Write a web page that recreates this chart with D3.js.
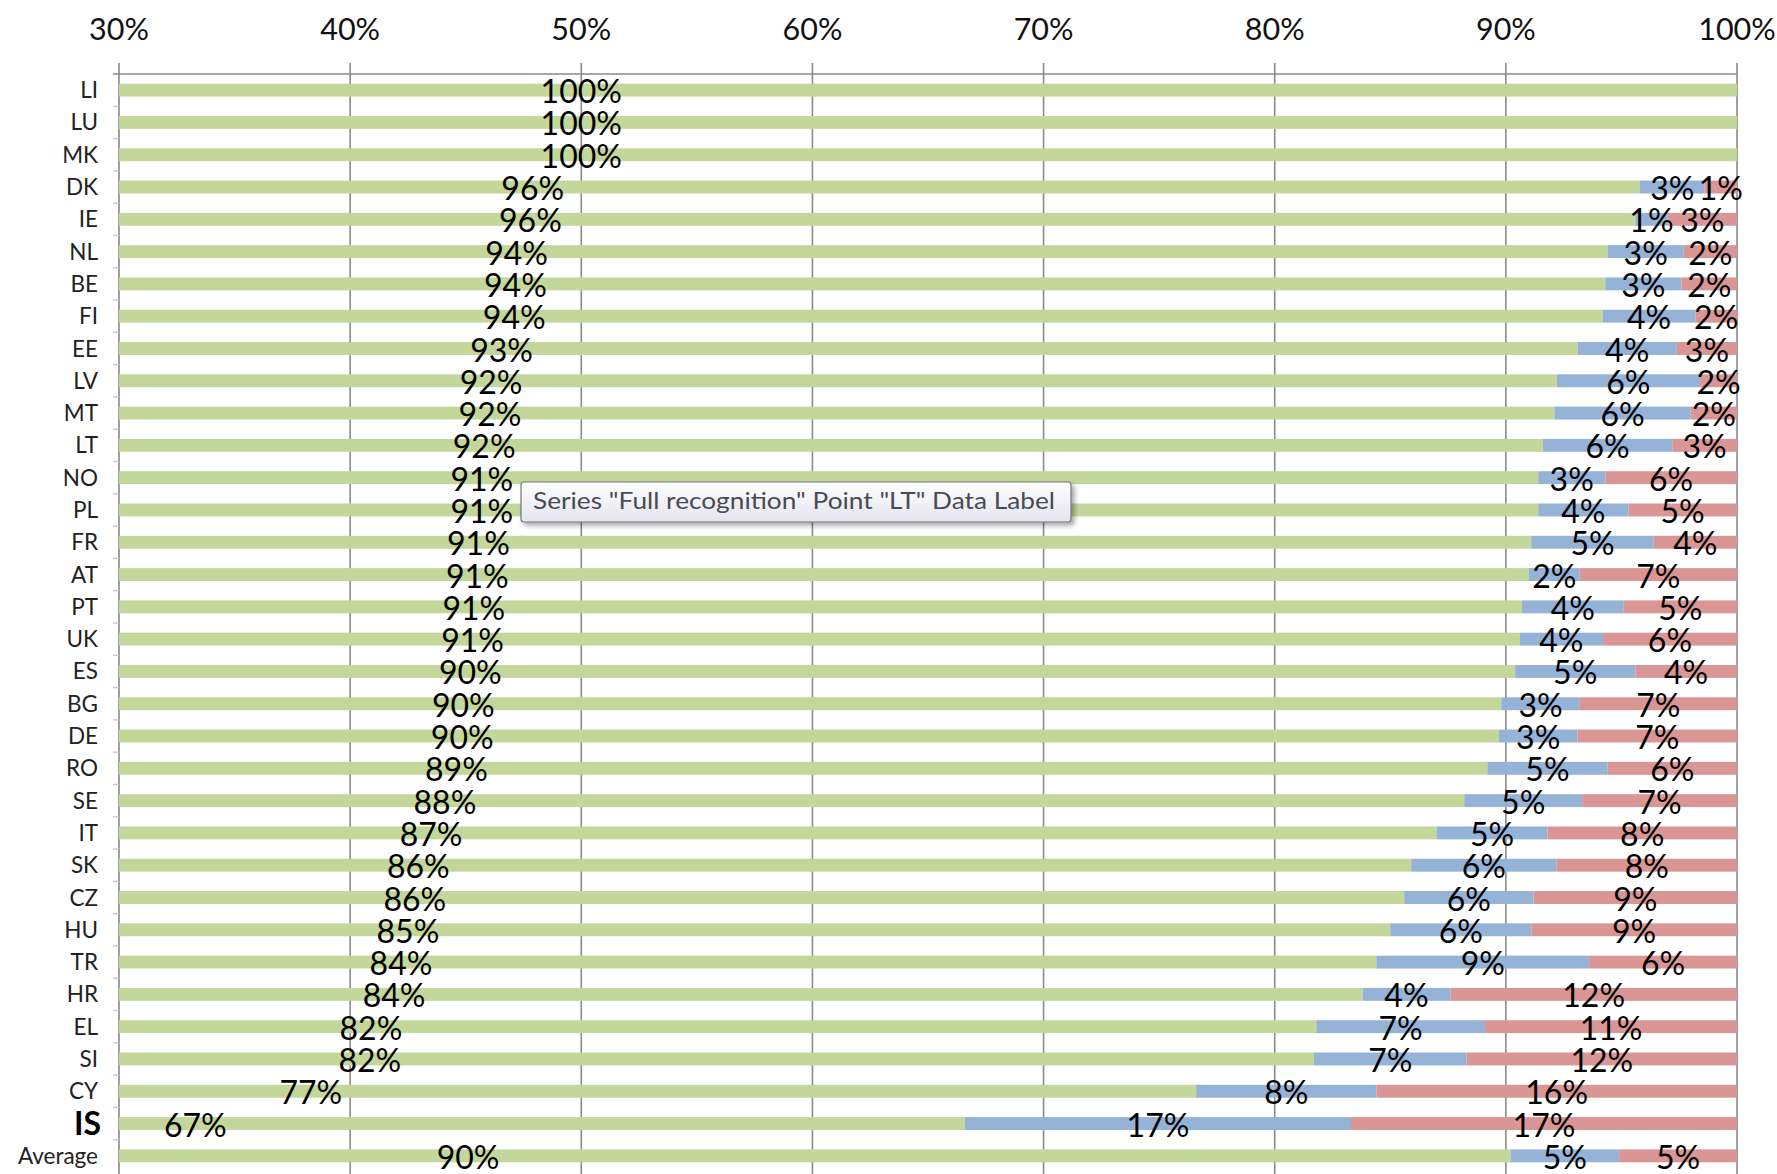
<!DOCTYPE html>
<html>
<head>
<meta charset="utf-8">
<script src="https://cdn.jsdelivr.net/npm/d3@7"></script>
<style>
    html, body { margin: 0; padding: 0; background: #fff; }
    svg { display: block; font-family: Lato, "Open Sans", sans-serif; }
</style>
</head>
<body>
<svg id="chart" width="1777" height="1174"></svg>
<script>
const categories = ["LI", "LU", "MK", "DK", "IE", "NL", "BE", "FI", "EE", "LV", "MT", "LT", "NO", "PL", "FR",
    "AT", "PT", "UK", "ES", "BG", "DE", "RO", "SE", "IT", "SK", "CZ", "HU", "TR", "HR", "EL", "SI", "CY", "IS", "Average"];
const fullRecognition = [100, 100, 100, 95.8, 95.6, 94.4, 94.3, 94.2, 93.1, 92.2, 92.1, 91.6, 91.4, 91.4, 91.1,
    91.0, 90.7, 90.6, 90.4, 89.8, 89.7, 89.2, 88.2, 87.0, 85.9, 85.6, 85.0, 84.4, 83.8, 81.8, 81.7, 76.6, 66.6, 90.2];
const partialRecognition = [0, 0, 0, 2.8, 1.4, 3.3, 3.3, 4.0, 4.3, 6.2, 5.9, 5.6, 2.9, 3.9, 5.3,
    2.2, 4.4, 3.6, 5.2, 3.4, 3.4, 5.2, 5.1, 4.8, 6.3, 5.6, 6.1, 9.2, 3.8, 7.3, 6.6, 7.8, 16.7, 4.7];
const noRecognition = [0, 0, 0, 1.4, 3.0, 2.3, 2.4, 1.8, 2.6, 1.6, 2.0, 2.8, 5.7, 4.7, 3.6,
    6.8, 4.9, 5.8, 4.4, 6.8, 6.9, 5.6, 6.7, 8.2, 7.8, 8.8, 8.9, 6.4, 12.4, 10.9, 11.7, 15.6, 16.7, 5.1];
const tickValues = [30, 40, 50, 60, 70, 80, 90, 100];
const seriesKeys = ["full", "partial", "none"];
const seriesColors = { full: "#c4d79b", partial: "#95b3d7", none: "#da9694" };
const tooltipText = 'Series "Full recognition" Point "LT" Data Label';

const svg = d3.select("#chart");
const plotLeft = 119, plotRight = 1737, plotTop = 74, plotBottom = 1172;

const x = d3.scaleLinear().domain([30, 100]).range([plotLeft, plotRight]);
const y = d3.scaleBand().domain(categories).range([plotTop, plotBottom])
    .paddingInner(0.6).paddingOuter(0.3);

const rows = categories.map((c, i) => ({
    cat: c, full: fullRecognition[i], partial: partialRecognition[i], none: noRecognition[i]
}));
const stacked = d3.stack().keys(seriesKeys)(rows);

// grid lines behind everything
svg.append("g")
    .selectAll("line")
    .data(tickValues)
    .join("line")
    .attr("x1", d => x(d)).attr("x2", d => x(d))
    .attr("y1", plotTop - 11).attr("y2", 1174)
    .attr("stroke", "#8a8a8a").attr("stroke-width", 1.6);

// top axis line + labels
svg.append("line")
    .attr("x1", plotLeft - 6).attr("x2", plotRight)
    .attr("y1", plotTop).attr("y2", plotTop)
    .attr("stroke", "#8a8a8a").attr("stroke-width", 1.6);

svg.append("g")
    .selectAll("text")
    .data(tickValues)
    .join("text")
    .attr("x", d => x(d))
    .attr("y", 40)
    .attr("text-anchor", "middle")
    .attr("font-size", 30.5)
    .attr("fill", "#111")
    .text(d => d + "%");

// little category ticks on the left of the value axis
svg.append("g")
    .selectAll("line")
    .data(categories.slice(1))
    .join("line")
    .attr("x1", plotLeft - 6).attr("x2", plotLeft)
    .attr("y1", d => y(d) - y.step() * y.paddingInner() / 2)
    .attr("y2", d => y(d) - y.step() * y.paddingInner() / 2)
    .attr("stroke", "#c8c8c8").attr("stroke-width", 1.4);

svg.append("defs").append("clipPath").attr("id", "plot")
    .append("rect").attr("x", plotLeft).attr("y", plotTop)
    .attr("width", plotRight - plotLeft).attr("height", 1174 - plotTop);

const bars = svg.append("g").attr("clip-path", "url(#plot)");
bars.selectAll("g")
    .data(stacked)
    .join("g")
    .attr("fill", s => seriesColors[s.key])
    .selectAll("rect")
    .data(s => s)
    .join("rect")
    .attr("x", d => x(Math.max(30, d[0])))
    .attr("width", d => Math.max(0, x(d[1]) - x(Math.max(30, d[0]))))
    .attr("y", d => y(d.data.cat))
    .attr("height", y.bandwidth());

// category labels
svg.append("g")
    .selectAll("text")
    .data(categories)
    .join("text")
    .attr("x", d => d === "IS" ? 101 : 98)
    .attr("y", d => y(d) + y.bandwidth() / 2 + (d === "IS" ? 11.5 : 8))
    .attr("text-anchor", "end")
    .attr("font-size", d => d === "IS" ? 32 : 22.5)
    .attr("font-weight", d => d === "IS" ? 700 : 400)
    .attr("fill", d => d === "IS" ? "#000" : "#222")
    .text(d => d);

// data labels, centred on each segment (Excel puts the green one at half of the full bar)
const labels = svg.append("g");
stacked.forEach(s => {
    labels.append("g")
        .selectAll("text")
        .data(s.filter(d => d[1] - d[0] > 0))
        .join("text")
        .attr("x", d => x((d[0] + d[1]) / 2))
        .attr("y", d => y(d.data.cat) + y.bandwidth() / 2 + 13)
        .attr("text-anchor", "middle")
        .attr("font-size", 32)
        .attr("fill", "#000")
        .text(d => Math.round(d[1] - d[0]) + "%");
});

// the hover tooltip that was on the screenshot
const defs = svg.select("defs");
const grad = defs.append("linearGradient").attr("id", "tipFill")
    .attr("x1", 0).attr("y1", 0).attr("x2", 0).attr("y2", 1);
grad.append("stop").attr("offset", "0%").attr("stop-color", "#ffffff");
grad.append("stop").attr("offset", "100%").attr("stop-color", "#e3e4ef");
const shadow = defs.append("filter").attr("id", "tipShadow")
    .attr("x", "-5%").attr("y", "-30%").attr("width", "110%").attr("height", "170%");
shadow.append("feDropShadow").attr("dx", 3).attr("dy", 3).attr("stdDeviation", 2.5)
    .attr("flood-color", "#000").attr("flood-opacity", 0.35);

const tip = svg.append("g");
tip.append("rect")
    .attr("x", 521).attr("y", 482).attr("width", 550).attr("height", 40)
    .attr("rx", 3)
    .attr("fill", "url(#tipFill)")
    .attr("stroke", "#767676").attr("stroke-width", 1.2)
    .attr("filter", "url(#tipShadow)");
tip.append("text")
    .attr("x", 533).attr("y", 509)
    .attr("font-size", 23)
    .attr("fill", "#4a4a55")
    .attr("textLength", 522)
    .attr("lengthAdjust", "spacingAndGlyphs")
    .text(tooltipText);
</script>
</body>
</html>
